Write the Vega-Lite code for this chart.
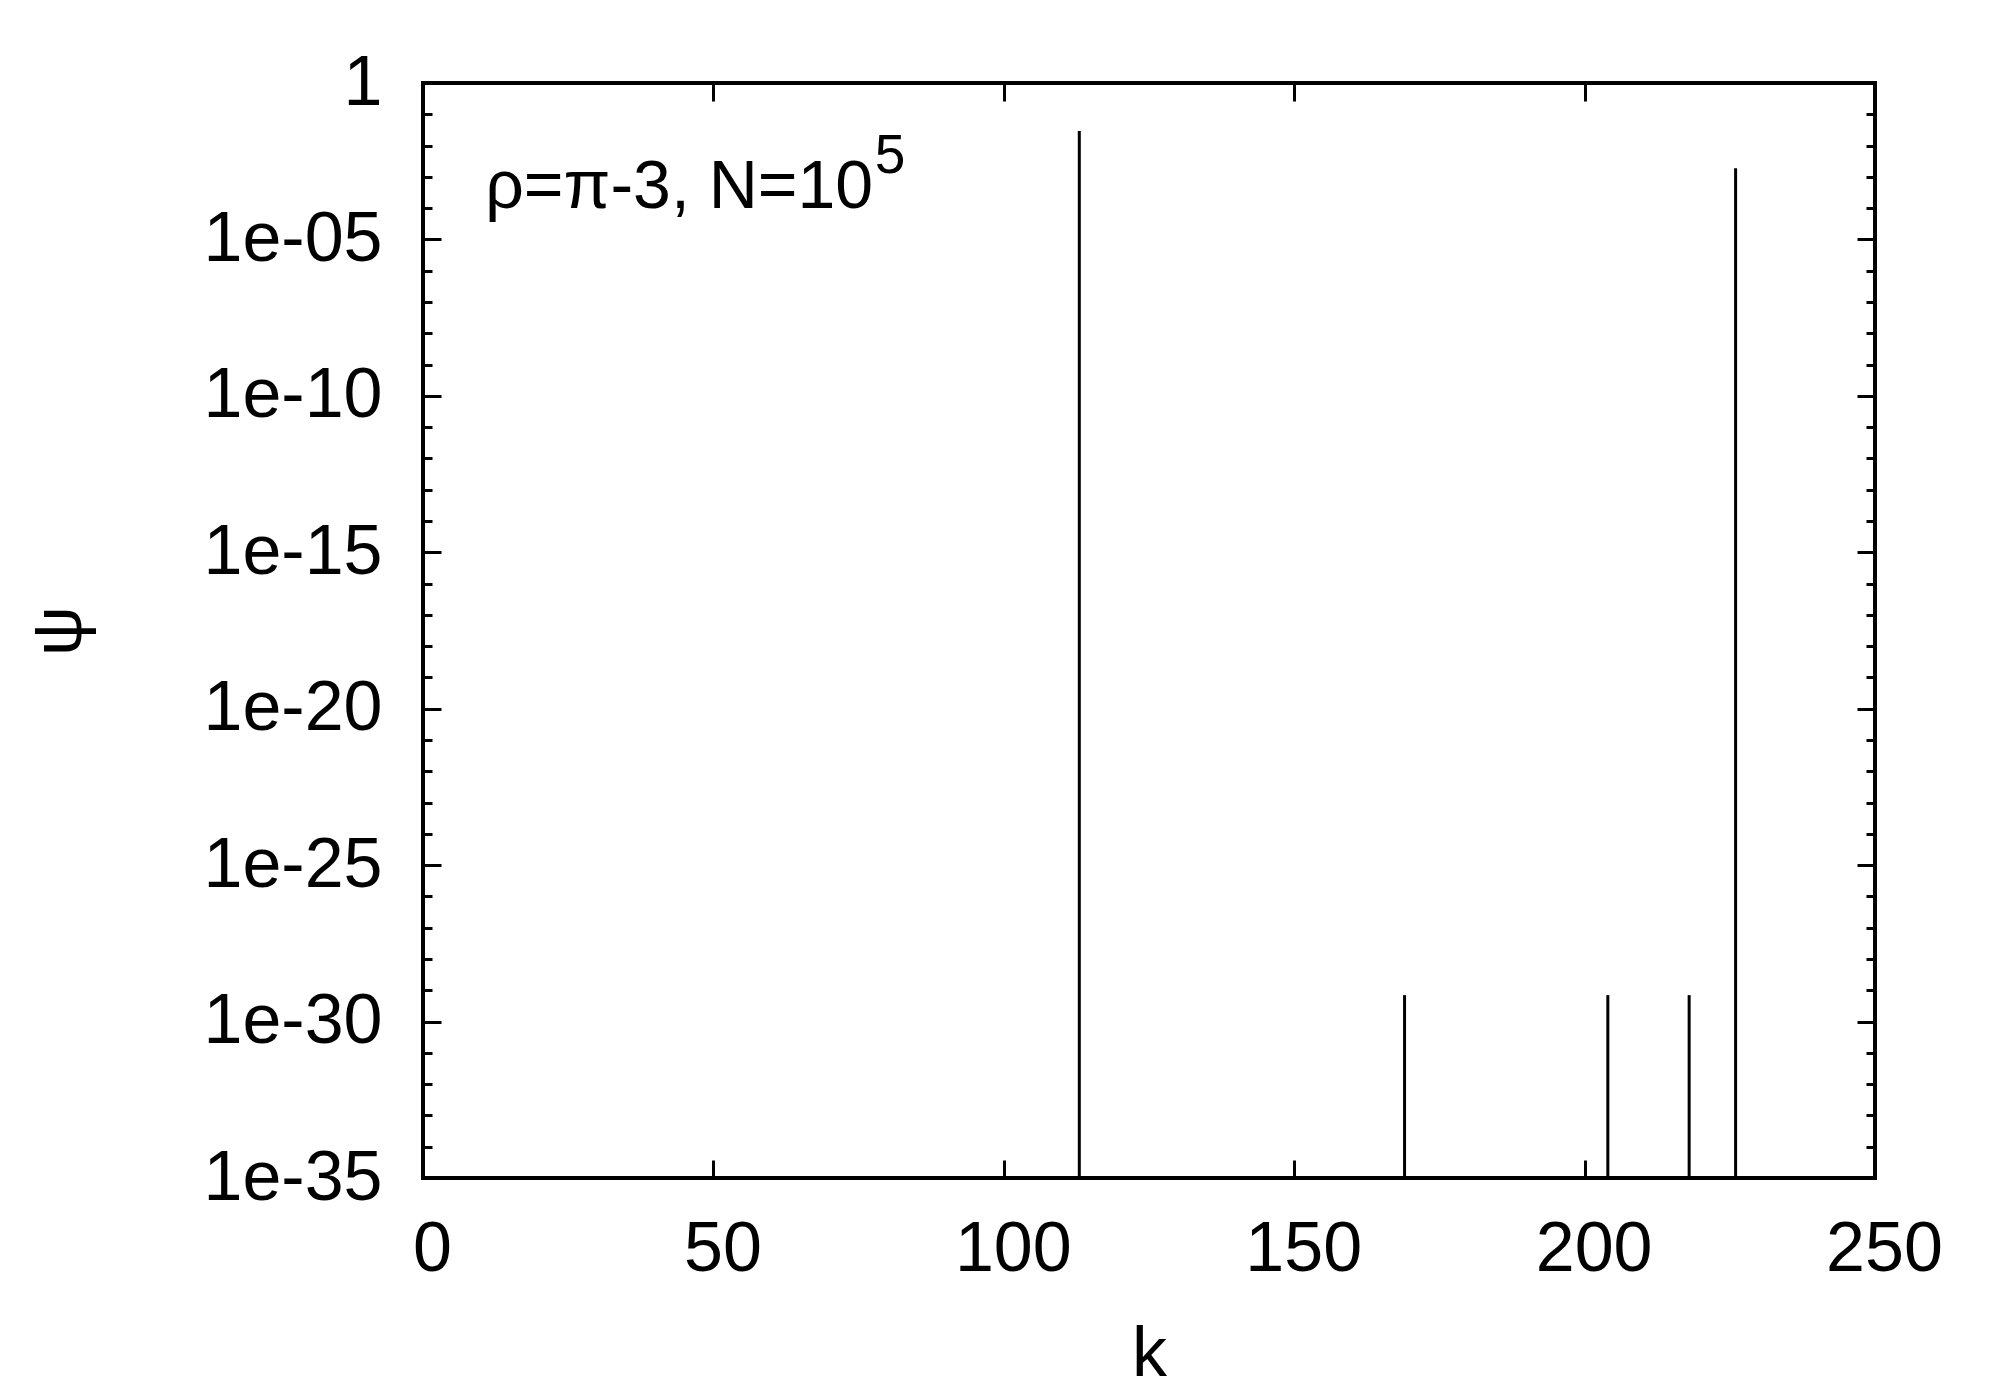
{
  "$schema": "https://vega.github.io/schema/vega-lite/v6.json",
  "width": 1452,
  "height": 1095,
  "autosize": {"type": "none"},
  "padding": {"left": 423, "top": 83, "right": 125, "bottom": 222},
  "background": "white",
  "datasets": {
    "impulses": [
      {"k": 113, "psi": 0.029},
      {"k": 169, "psi": 7e-30},
      {"k": 204, "psi": 7e-30},
      {"k": 218, "psi": 7e-30},
      {"k": 226, "psi": 0.0019}
    ],
    "label": [{"k": 10.7, "psi": 1e-4, "text": "ρ=π-3, N=10"}],
    "sup": [{"k": 77.8, "psi": 1.33e-3, "text": "5"}]
  },
  "layer": [
    {
      "data": {"name": "impulses"},
      "mark": {"type": "rule", "color": "black", "strokeWidth": 3},
      "encoding": {
        "x": {"field": "k", "type": "quantitative", "scale": {"domain": [0, 250], "nice": false, "zero": false},
          "axis": {"orient": "bottom", "values": [0, 50, 100, 150, 200, 250], "tickSize": -18, "labelPadding": 110, "labelBaseline": "alphabetic", "labelOffset": 9,
            "title": "k", "titleX": 726, "titleY": 197, "titleBaseline": "alphabetic", "titleAlign": "center"}},
        "y": {"field": "psi", "type": "quantitative", "scale": {"type": "log", "domain": [1e-35, 1], "nice": false, "zero": false},
          "axis": {"orient": "left", "values": [1, 1e-5, 1e-10, 1e-15, 1e-20, 1e-25, 1e-30, 1e-35], "tickSize": -18, "labelPadding": 59, "labelAlign": "right", "labelBaseline": "middle",
            "labelExpr": "datum.value >= 0.5 ? '1' : '1e-' + (round(-log(datum.value)/LN10) < 10 ? '0' + round(-log(datum.value)/LN10) : '' + round(-log(datum.value)/LN10))",
            "title": "ψ", "titleX": -343, "titleY": 547.5, "titleAngle": 270, "titleAlign": "center", "titleBaseline": "alphabetic"}},
        "y2": {"datum": 1e-35}
      }
    },
    {
      "data": {"name": "impulses"},
      "mark": {"type": "rule", "opacity": 0},
      "encoding": {
        "x": {"field": "k", "type": "quantitative",
          "axis": {"orient": "top", "values": [0, 50, 100, 150, 200, 250], "tickSize": -18, "labels": false, "title": null}},
        "y": {"field": "psi", "type": "quantitative",
          "axis": {"orient": "left", "values": [1, 1e-1, 1e-2, 1e-3, 1e-4, 1e-5, 1e-6, 1e-7, 1e-8, 1e-9, 1e-10, 1e-11, 1e-12, 1e-13, 1e-14, 1e-15, 1e-16, 1e-17, 1e-18, 1e-19, 1e-20, 1e-21, 1e-22, 1e-23, 1e-24, 1e-25, 1e-26, 1e-27, 1e-28, 1e-29, 1e-30, 1e-31, 1e-32, 1e-33, 1e-34, 1e-35], "tickSize": -9, "labels": false, "title": null}}
      }
    },
    {
      "data": {"name": "impulses"},
      "mark": {"type": "rule", "opacity": 0},
      "encoding": {
        "x": {"field": "k", "type": "quantitative", "axis": null},
        "y": {"field": "psi", "type": "quantitative",
          "axis": {"orient": "right", "values": [1, 1e-5, 1e-10, 1e-15, 1e-20, 1e-25, 1e-30, 1e-35], "tickSize": -18, "labels": false, "title": null}}
      }
    },
    {
      "data": {"name": "impulses"},
      "mark": {"type": "rule", "opacity": 0},
      "encoding": {
        "x": {"field": "k", "type": "quantitative", "axis": null},
        "y": {"field": "psi", "type": "quantitative",
          "axis": {"orient": "right", "values": [1, 1e-1, 1e-2, 1e-3, 1e-4, 1e-5, 1e-6, 1e-7, 1e-8, 1e-9, 1e-10, 1e-11, 1e-12, 1e-13, 1e-14, 1e-15, 1e-16, 1e-17, 1e-18, 1e-19, 1e-20, 1e-21, 1e-22, 1e-23, 1e-24, 1e-25, 1e-26, 1e-27, 1e-28, 1e-29, 1e-30, 1e-31, 1e-32, 1e-33, 1e-34, 1e-35], "tickSize": -9, "labels": false, "title": null}}
      }
    },
    {
      "data": {"name": "label"},
      "mark": {"type": "text", "align": "left", "baseline": "alphabetic", "font": "Liberation Sans", "fontSize": 68, "color": "black"},
      "encoding": {
        "x": {"field": "k", "type": "quantitative", "axis": null},
        "y": {"field": "psi", "type": "quantitative", "axis": null},
        "text": {"field": "text"}
      }
    },
    {
      "data": {"name": "sup"},
      "mark": {"type": "text", "align": "left", "baseline": "alphabetic", "font": "Liberation Sans", "fontSize": 55, "color": "black"},
      "encoding": {
        "x": {"field": "k", "type": "quantitative", "axis": null},
        "y": {"field": "psi", "type": "quantitative", "axis": null},
        "text": {"field": "text"}
      }
    }
  ],
  "resolve": {"scale": {"x": "shared", "y": "shared"}, "axis": {"x": "independent", "y": "independent"}},
  "config": {
    "view": {"stroke": "black", "strokeWidth": 4},
    "axis": {"domain": false, "grid": false, "ticks": true, "tickColor": "black", "tickWidth": 3,
      "labelColor": "black", "labelFont": "Liberation Sans", "labelFontSize": 70, "labelFlush": false, "labelOverlap": false,
      "titleColor": "black", "titleFont": "Liberation Sans", "titleFontSize": 70, "titleFontWeight": "normal"}
  }
}
